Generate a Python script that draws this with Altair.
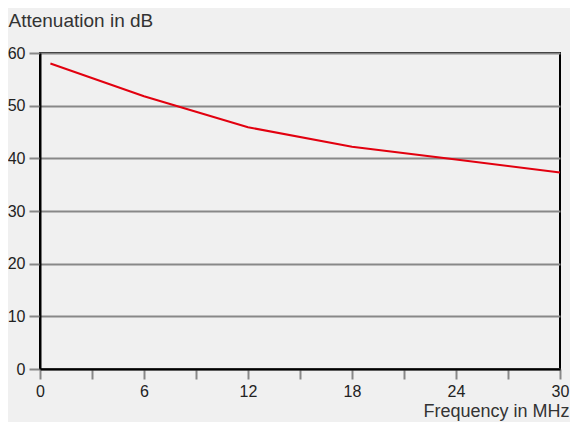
import altair as alt
import pandas as pd

freq = [0.6, 6, 12, 18, 24, 30]
atten = [58.0, 51.8, 45.9, 42.2, 39.8, 37.3]
x_ticks = [0, 3, 6, 9, 12, 15, 18, 21, 24, 27, 30]
y_ticks = [0, 10, 20, 30, 40, 50, 60]

df = pd.DataFrame({"f": freq, "a": atten})

W, H = 520, 316

chart = alt.Chart(df).mark_line(color="#e2000f", strokeWidth=2).encode(
    x=alt.X("f:Q", scale=alt.Scale(domain=[0, 30], nice=False),
            axis=alt.Axis(values=x_ticks,
                          labelExpr="datum.value % 6 == 0 ? datum.label : ''",
                          grid=False, domainColor="black", domainWidth=2,
                          tickColor="#888888", tickWidth=2, tickSize=10,
                          labelPadding=4, labelFontSize=16, labelColor="#222222",
                          labelFont="Liberation Sans", labelFlush=False,
                          title="Frequency in MHz", titleFont="Liberation Sans",
                          titleFontSize=18, titleFontWeight="normal", titleColor="#333333",
                          titleAnchor="end", titleAlign="right", titleBaseline="alphabetic",
                          titleX=W + 9, titleY=47)),
    y=alt.Y("a:Q", scale=alt.Scale(domain=[0, 60], nice=False),
            axis=alt.Axis(values=y_ticks, grid=True, gridColor="#888888", gridWidth=2,
                          domainColor="black", domainWidth=2,
                          tickColor="#888888", tickWidth=2, tickSize=11,
                          labelPadding=4, labelFontSize=16, labelColor="#222222",
                          labelFont="Liberation Sans",
                          title="Attenuation in dB", titleFont="Liberation Sans",
                          titleFontSize=19, titleFontWeight="normal", titleColor="#333333",
                          titleAngle=0, titleAlign="left", titleBaseline="alphabetic",
                          titleX=-32, titleY=-27)),
).properties(
    width=W, height=H, background="#f0f0f0",
    autosize=alt.AutoSizeParams(type="none"),
    padding={"left": 32, "top": 45, "right": 10, "bottom": 53},
).configure_view(stroke="black", strokeWidth=2)

chart.save("out.html", embed_options={"renderer": "svg", "actions": False})
